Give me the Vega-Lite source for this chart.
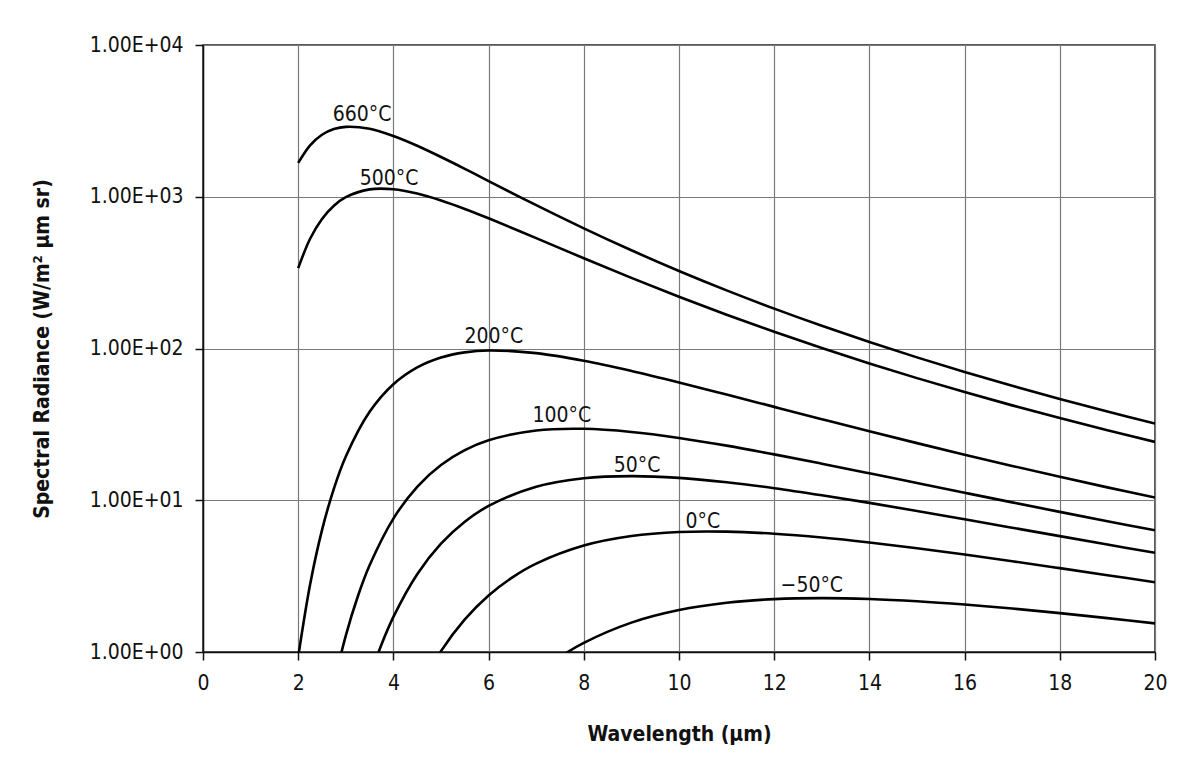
{
  "$schema": "https://vega.github.io/schema/vega-lite/v6.json",
  "autosize": {"type": "none"},
  "padding": {"left": 203, "top": 45, "right": 35, "bottom": 121},
  "width": 952,
  "height": 607,
  "background": "white",
  "config": {
    "font": "DejaVu Sans Condensed, DejaVu Sans",
    "view": {"stroke": "#222222", "strokeWidth": 1.5},
    "axis": {
      "labelFont": "DejaVu Sans Condensed, DejaVu Sans",
      "titleFont": "DejaVu Sans Condensed, DejaVu Sans",
      "labelFontSize": 21,
      "titleFontSize": 21,
      "titleFontWeight": "bold",
      "labelColor": "#111111",
      "titleColor": "#111111",
      "domainColor": "#111111",
      "domainWidth": 1.5,
      "tickColor": "#111111",
      "tickWidth": 1.5,
      "tickSize": 8,
      "labelPadding": 12,
      "gridColor": "#7a7a7a",
      "gridWidth": 1.2,
      "gridOpacity": 1
    }
  },
  "datasets": {
    "curves": [
      {"T": "660°C", "wl": 2, "L": 1671}, {"T": "660°C", "wl": 2.25, "L": 2184}, {"T": "660°C", "wl": 2.5, "L": 2561}, {"T": "660°C", "wl": 2.75, "L": 2791}, {"T": "660°C", "wl": 3, "L": 2888}, {"T": "660°C", "wl": 3.5, "L": 2805}, {"T": "660°C", "wl": 4, "L": 2516}, {"T": "660°C", "wl": 4.5, "L": 2169}, {"T": "660°C", "wl": 5, "L": 1828}, {"T": "660°C", "wl": 5.5, "L": 1528}, {"T": "660°C", "wl": 6, "L": 1269}, {"T": "660°C", "wl": 7, "L": 880}, {"T": "660°C", "wl": 8, "L": 619}, {"T": "660°C", "wl": 9, "L": 443.7}, {"T": "660°C", "wl": 10, "L": 324.2}, {"T": "660°C", "wl": 11, "L": 241.5}, {"T": "660°C", "wl": 12, "L": 183.1}, {"T": "660°C", "wl": 13, "L": 141.1}, {"T": "660°C", "wl": 14, "L": 110.3}, {"T": "660°C", "wl": 15, "L": 87.4}, {"T": "660°C", "wl": 16, "L": 70.07}, {"T": "660°C", "wl": 17, "L": 56.79}, {"T": "660°C", "wl": 18, "L": 46.52}, {"T": "660°C", "wl": 19, "L": 38.45}, {"T": "660°C", "wl": 20, "L": 32.03},
      {"T": "500°C", "wl": 2, "L": 338.6}, {"T": "500°C", "wl": 2.25, "L": 528.4}, {"T": "500°C", "wl": 2.5, "L": 713.8}, {"T": "500°C", "wl": 2.75, "L": 872.7}, {"T": "500°C", "wl": 3, "L": 993.7}, {"T": "500°C", "wl": 3.5, "L": 1118}, {"T": "500°C", "wl": 4, "L": 1120.5}, {"T": "500°C", "wl": 4.5, "L": 1049.6}, {"T": "500°C", "wl": 5, "L": 944.5}, {"T": "500°C", "wl": 5.5, "L": 831.5}, {"T": "500°C", "wl": 6, "L": 721.4}, {"T": "500°C", "wl": 7, "L": 533.9}, {"T": "500°C", "wl": 8, "L": 393.4}, {"T": "500°C", "wl": 9, "L": 292.1}, {"T": "500°C", "wl": 10, "L": 219.4}, {"T": "500°C", "wl": 11, "L": 167.0}, {"T": "500°C", "wl": 12, "L": 128.8}, {"T": "500°C", "wl": 13, "L": 100.7}, {"T": "500°C", "wl": 14, "L": 79.7}, {"T": "500°C", "wl": 15, "L": 63.8}, {"T": "500°C", "wl": 16, "L": 51.6}, {"T": "500°C", "wl": 17, "L": 42.19}, {"T": "500°C", "wl": 18, "L": 34.79}, {"T": "500°C", "wl": 19, "L": 28.92}, {"T": "500°C", "wl": 20, "L": 24.23},
      {"T": "200°C", "wl": 2, "L": 0.93}, {"T": "200°C", "wl": 2.25, "L": 2.788}, {"T": "200°C", "wl": 2.5, "L": 6.36}, {"T": "200°C", "wl": 2.75, "L": 11.93}, {"T": "200°C", "wl": 3, "L": 19.42}, {"T": "200°C", "wl": 3.5, "L": 38.24}, {"T": "200°C", "wl": 4, "L": 58.12}, {"T": "200°C", "wl": 4.5, "L": 75.06}, {"T": "200°C", "wl": 5, "L": 87.23}, {"T": "200°C", "wl": 5.5, "L": 94.32}, {"T": "200°C", "wl": 6, "L": 97.02}, {"T": "200°C", "wl": 7, "L": 93.21}, {"T": "200°C", "wl": 8, "L": 83.08}, {"T": "200°C", "wl": 9, "L": 71.17}, {"T": "200°C", "wl": 10, "L": 59.78}, {"T": "200°C", "wl": 11, "L": 49.72}, {"T": "200°C", "wl": 12, "L": 41.24}, {"T": "200°C", "wl": 13, "L": 34.23}, {"T": "200°C", "wl": 14, "L": 28.47}, {"T": "200°C", "wl": 15, "L": 23.79}, {"T": "200°C", "wl": 16, "L": 19.96}, {"T": "200°C", "wl": 17, "L": 16.84}, {"T": "200°C", "wl": 18, "L": 14.27}, {"T": "200°C", "wl": 19, "L": 12.16}, {"T": "200°C", "wl": 20, "L": 10.41},
      {"T": "100°C", "wl": 2.75, "L": 0.6166}, {"T": "100°C", "wl": 3, "L": 1.2833}, {"T": "100°C", "wl": 3.25, "L": 2.312}, {"T": "100°C", "wl": 3.5, "L": 3.724}, {"T": "100°C", "wl": 4, "L": 7.573}, {"T": "100°C", "wl": 4.5, "L": 12.27}, {"T": "100°C", "wl": 5, "L": 17.07}, {"T": "100°C", "wl": 5.5, "L": 21.37}, {"T": "100°C", "wl": 6, "L": 24.83}, {"T": "100°C", "wl": 7, "L": 28.84}, {"T": "100°C", "wl": 8, "L": 29.56}, {"T": "100°C", "wl": 9, "L": 28.19}, {"T": "100°C", "wl": 10, "L": 25.75}, {"T": "100°C", "wl": 11, "L": 22.9}, {"T": "100°C", "wl": 12, "L": 20.06}, {"T": "100°C", "wl": 13, "L": 17.42}, {"T": "100°C", "wl": 14, "L": 15.06}, {"T": "100°C", "wl": 15, "L": 12.99}, {"T": "100°C", "wl": 16, "L": 11.21}, {"T": "100°C", "wl": 17, "L": 9.685}, {"T": "100°C", "wl": 18, "L": 8.385}, {"T": "100°C", "wl": 19, "L": 7.278}, {"T": "100°C", "wl": 20, "L": 6.335},
      {"T": "50°C", "wl": 3.5, "L": 0.6777}, {"T": "50°C", "wl": 3.75, "L": 1.1204}, {"T": "50°C", "wl": 4, "L": 1.704}, {"T": "50°C", "wl": 4.5, "L": 3.258}, {"T": "50°C", "wl": 5, "L": 5.174}, {"T": "50°C", "wl": 5.5, "L": 7.219}, {"T": "50°C", "wl": 6, "L": 9.175}, {"T": "50°C", "wl": 7, "L": 12.27}, {"T": "50°C", "wl": 8, "L": 13.97}, {"T": "50°C", "wl": 9, "L": 14.43}, {"T": "50°C", "wl": 10, "L": 14.04}, {"T": "50°C", "wl": 11, "L": 13.14}, {"T": "50°C", "wl": 12, "L": 12.01}, {"T": "50°C", "wl": 13, "L": 10.79}, {"T": "50°C", "wl": 14, "L": 9.606}, {"T": "50°C", "wl": 15, "L": 8.497}, {"T": "50°C", "wl": 16, "L": 7.49}, {"T": "50°C", "wl": 17, "L": 6.592}, {"T": "50°C", "wl": 18, "L": 5.801}, {"T": "50°C", "wl": 19, "L": 5.108}, {"T": "50°C", "wl": 20, "L": 4.503},
      {"T": "0°C", "wl": 4.5, "L": 0.5326}, {"T": "0°C", "wl": 5, "L": 1.0134}, {"T": "0°C", "wl": 5.5, "L": 1.64}, {"T": "0°C", "wl": 6, "L": 2.358}, {"T": "0°C", "wl": 6.5, "L": 3.105}, {"T": "0°C", "wl": 7, "L": 3.825}, {"T": "0°C", "wl": 8, "L": 5.029}, {"T": "0°C", "wl": 9, "L": 5.81}, {"T": "0°C", "wl": 10, "L": 6.173}, {"T": "0°C", "wl": 11, "L": 6.208}, {"T": "0°C", "wl": 12, "L": 6.013}, {"T": "0°C", "wl": 13, "L": 5.678}, {"T": "0°C", "wl": 14, "L": 5.266}, {"T": "0°C", "wl": 15, "L": 4.826}, {"T": "0°C", "wl": 16, "L": 4.385}, {"T": "0°C", "wl": 17, "L": 3.963}, {"T": "0°C", "wl": 18, "L": 3.569}, {"T": "0°C", "wl": 19, "L": 3.208}, {"T": "0°C", "wl": 20, "L": 2.88},
      {"T": "−50°C", "wl": 7, "L": 0.7082}, {"T": "−50°C", "wl": 7.5, "L": 0.9271}, {"T": "−50°C", "wl": 8, "L": 1.149}, {"T": "−50°C", "wl": 9, "L": 1.562}, {"T": "−50°C", "wl": 10, "L": 1.89}, {"T": "−50°C", "wl": 11, "L": 2.111}, {"T": "−50°C", "wl": 12, "L": 2.231}, {"T": "−50°C", "wl": 13, "L": 2.266}, {"T": "−50°C", "wl": 14, "L": 2.236}, {"T": "−50°C", "wl": 15, "L": 2.161}, {"T": "−50°C", "wl": 16, "L": 2.056}, {"T": "−50°C", "wl": 17, "L": 1.934}, {"T": "−50°C", "wl": 18, "L": 1.803}, {"T": "−50°C", "wl": 19, "L": 1.672}, {"T": "−50°C", "wl": 20, "L": 1.543}
    ],
    "labels": [
      {"T": "660°C", "wl": 3.34, "L": 3155},
      {"T": "500°C", "wl": 3.91, "L": 1195},
      {"T": "200°C", "wl": 6.11, "L": 108.7},
      {"T": "100°C", "wl": 7.54, "L": 32.8},
      {"T": "50°C", "wl": 9.12, "L": 15.36},
      {"T": "0°C", "wl": 10.5, "L": 6.56},
      {"T": "−50°C", "wl": 12.79, "L": 2.48}
    ]
  },
  "layer": [
    {
      "data": {"name": "curves"},
      "mark": {"type": "line", "interpolate": "catmull-rom", "clip": true, "color": "black", "strokeWidth": 2.6},
      "encoding": {
        "x": {
          "field": "wl", "type": "quantitative",
          "scale": {"domain": [0, 20], "nice": false},
          "axis": {"values": [0, 2, 4, 6, 8, 10, 12, 14, 16, 18, 20], "title": "Wavelength (μm)", "titleY": 88, "titleBaseline": "alphabetic", "labelFlush": false}
        },
        "y": {
          "field": "L", "type": "quantitative",
          "scale": {"type": "log", "domain": [1, 10000], "nice": false},
          "axis": {"values": [1, 10, 100, 1000, 10000], "labelExpr": "'1.00E+0' + round(log(datum.value) / LN10)", "title": "Spectral Radiance (W/m² μm sr)", "titleX": -155, "titleBaseline": "alphabetic", "labelFlush": false}
        },
        "detail": {"field": "T"}
      }
    },
    {
      "data": {"name": "labels"},
      "mark": {"type": "text", "baseline": "alphabetic", "align": "center", "fontSize": 21, "color": "#111111"},
      "encoding": {
        "x": {"field": "wl", "type": "quantitative"},
        "y": {"field": "L", "type": "quantitative"},
        "text": {"field": "T"}
      }
    }
  ]
}
